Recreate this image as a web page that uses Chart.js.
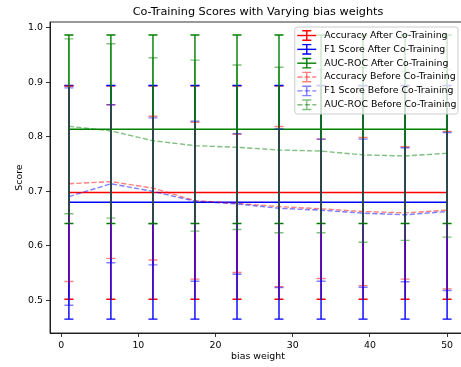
<!DOCTYPE html>
<html lang="en">
<head>
    <meta charset="UTF-8">
    <title>Co-Training Scores</title>
    <script src="https://cdn.jsdelivr.net/npm/chart.js"></script>
    <style>
        html, body {
            margin: 0;
            padding: 0;
            overflow: hidden;
            background: #fff;
        }
        #wrap {
            width: 470px;
            height: 367px;
        }
    </style>
</head>
<body>
    <div id="wrap">
        <canvas id="scores-chart" width="470" height="367"></canvas>
    </div>

    <script>
        // bias weights (x positions of the points)
        const biasWeights = [1, 6.44, 11.89, 17.33, 22.78, 28.22, 33.67, 39.11, 44.56, 50];

        const accAfter = [0.698, 0.698, 0.698, 0.698, 0.698, 0.698, 0.698, 0.698, 0.698, 0.698];
        const accAfterErr = [0.196, 0.196, 0.196, 0.196, 0.196, 0.196, 0.196, 0.196, 0.196, 0.196];
        const f1After = [0.680, 0.680, 0.680, 0.680, 0.680, 0.680, 0.680, 0.680, 0.680, 0.680];
        const f1AfterErr = [0.2145, 0.2145, 0.2145, 0.2145, 0.2145, 0.2145, 0.2145, 0.2145, 0.2145, 0.2145];
        const aucAfter = [0.814, 0.814, 0.814, 0.814, 0.814, 0.814, 0.814, 0.814, 0.814, 0.814];
        const aucAfterErr = [0.173, 0.173, 0.173, 0.173, 0.173, 0.173, 0.173, 0.173, 0.173, 0.173];

        const accBefore = [0.714, 0.718, 0.706, 0.683, 0.678, 0.672, 0.668, 0.663, 0.6605, 0.6655];
        const accBeforeErr = [0.1795, 0.141, 0.132, 0.144, 0.127, 0.147, 0.128, 0.136, 0.1215, 0.1445];
        const f1Before = [0.6905, 0.714, 0.700, 0.682, 0.677, 0.669, 0.6655, 0.660, 0.657, 0.663];
        const f1BeforeErr = [0.1995, 0.145, 0.135, 0.147, 0.129, 0.1455, 0.1305, 0.136, 0.123, 0.145];
        const aucBefore = [0.8195, 0.811, 0.793, 0.784, 0.781, 0.776, 0.774, 0.767, 0.765, 0.770];
        const aucBeforeErr = [0.1605, 0.160, 0.1525, 0.157, 0.151, 0.152, 0.150, 0.1605, 0.155, 0.154];

        const xTicks = [0, 10, 20, 30, 40, 50];
        const yTicks = [0.5, 0.6, 0.7, 0.8, 0.9, 1.0];

        const series = [
            { label: 'Accuracy After Co-Training', vals: accAfter, err: accAfterErr, color: 'rgb(255,0,0)', dashed: false },
            { label: 'F1 Score After Co-Training', vals: f1After, err: f1AfterErr, color: 'rgb(0,0,255)', dashed: false },
            { label: 'AUC-ROC After Co-Training', vals: aucAfter, err: aucAfterErr, color: 'rgb(0,128,0)', dashed: false },
            { label: 'Accuracy Before Co-Training', vals: accBefore, err: accBeforeErr, color: 'rgba(255,0,0,0.5)', dashed: true },
            { label: 'F1 Score Before Co-Training', vals: f1Before, err: f1BeforeErr, color: 'rgba(0,0,255,0.5)', dashed: true },
            { label: 'AUC-ROC Before Co-Training', vals: aucBefore, err: aucBeforeErr, color: 'rgba(0,128,0,0.5)', dashed: true }
        ];

        const DASH = [5.2, 2.3];
        const CAP = 4.5;
        const LW = 1.4;
        const SMALL = 9.4;

        // vertical error bars with caps, drawn right after each dataset's line
        const errorBars = {
            id: 'errorBars',
            afterDatasetDraw(chart, args) {
                const ds = chart.data.datasets[args.index];
                const xs = chart.scales.x, ys = chart.scales.y;
                const ctx = chart.ctx;
                const area = chart.chartArea;
                ctx.save();
                ctx.beginPath();
                ctx.rect(area.left, area.top, area.right - area.left, area.bottom - area.top);
                ctx.clip();
                ctx.strokeStyle = ds.borderColor;
                ctx.lineWidth = LW;
                ctx.setLineDash([]);
                ds.data.forEach((p, i) => {
                    const px = xs.getPixelForValue(p.x);
                    const top = ys.getPixelForValue(p.y + ds.err[i]);
                    const bot = ys.getPixelForValue(p.y - ds.err[i]);
                    ctx.beginPath();
                    ctx.moveTo(px, top);
                    ctx.lineTo(px, bot);
                    ctx.moveTo(px - CAP, top);
                    ctx.lineTo(px + CAP, top);
                    ctx.moveTo(px - CAP, bot);
                    ctx.lineTo(px + CAP, bot);
                    ctx.stroke();
                });
                ctx.restore();
            },
            afterDraw(chart) {
                const ctx = chart.ctx;
                const area = chart.chartArea;
                // axes frame
                ctx.save();
                ctx.strokeStyle = '#000';
                ctx.lineWidth = 0.8;
                ctx.strokeRect(area.left, area.top, area.right - area.left, area.bottom - area.top);

                // legend, top right
                ctx.font = SMALL + 'px "DejaVu Sans"';
                let maxW = 0;
                series.forEach(s => { maxW = Math.max(maxW, ctx.measureText(s.label).width); });
                const boxW = maxW + 31;
                const boxH = 87;
                const right = area.right - 8;
                const left = right - boxW;
                const top = area.top + 5;
                ctx.beginPath();
                ctx.roundRect(left, top, boxW, boxH, 2.5);
                ctx.fillStyle = 'rgba(255,255,255,0.8)';
                ctx.fill();
                ctx.strokeStyle = '#cccccc';
                ctx.lineWidth = 1;
                ctx.stroke();

                series.forEach((s, i) => {
                    const cy = top + 8.5 + i * 13.85;
                    const x0 = left + 2.5, x1 = x0 + 19, cx = x0 + 9.5;
                    ctx.strokeStyle = s.color;
                    ctx.lineWidth = LW;
                    ctx.setLineDash(s.dashed ? DASH : []);
                    ctx.beginPath();
                    ctx.moveTo(x0, cy);
                    ctx.lineTo(x1, cy);
                    ctx.stroke();
                    ctx.setLineDash([]);
                    ctx.beginPath();
                    ctx.moveTo(cx, cy - 4.7);
                    ctx.lineTo(cx, cy + 4.7);
                    ctx.moveTo(cx - CAP, cy - 4.7);
                    ctx.lineTo(cx + CAP, cy - 4.7);
                    ctx.moveTo(cx - CAP, cy + 4.7);
                    ctx.lineTo(cx + CAP, cy + 4.7);
                    ctx.stroke();
                    ctx.fillStyle = '#000';
                    ctx.textAlign = 'left';
                    ctx.textBaseline = 'middle';
                    ctx.fillText(s.label, x0 + 27, cy);
                });
                ctx.restore();
            }
        };

        Chart.defaults.font.family = '"DejaVu Sans", sans-serif';
        Chart.defaults.color = '#000';

        const chart = new Chart(document.getElementById('scores-chart'), {
            type: 'line',
            data: {
                datasets: series.map((s, i) => ({
                    label: s.label,
                    data: biasWeights.map((x, j) => ({ x: x, y: s.vals[j] })),
                    err: s.err,
                    borderColor: s.color,
                    backgroundColor: s.color,
                    borderWidth: LW,
                    borderDash: s.dashed ? DASH : [],
                    pointRadius: 0,
                    tension: 0,
                    fill: false,
                    order: series.length - i
                }))
            },
            options: {
                responsive: false,
                animation: false,
                devicePixelRatio: 1,
                events: [],
                layout: { padding: { left: 0, right: 4, top: 0, bottom: 0 } },
                plugins: {
                    legend: { display: false },
                    tooltip: { enabled: false },
                    title: {
                        display: true,
                        text: 'Co-Training Scores with Varying bias weights',
                        fullSize: false,
                        color: '#000',
                        font: { size: 11.25, weight: 'normal' },
                        padding: { top: 5.5, bottom: 3 }
                    }
                },
                scales: {
                    x: {
                        type: 'linear',
                        min: -1.45,
                        max: 52.45,
                        afterBuildTicks: scale => { scale.ticks = xTicks.map(v => ({ value: v })); },
                        afterFit: scale => { scale.height = 34; },
                        grid: { drawOnChartArea: false, tickLength: 4, tickColor: '#000', lineWidth: 0.8 },
                        border: { display: true, color: '#000', width: 0.8 },
                        ticks: { font: { size: SMALL }, padding: 3, maxRotation: 0, callback: v => String(v) },
                        title: { display: true, text: 'bias weight', font: { size: SMALL }, padding: { top: 0, bottom: 4.5 } }
                    },
                    y: {
                        type: 'linear',
                        min: 0.44,
                        max: 1.011,
                        afterBuildTicks: scale => { scale.ticks = yTicks.map(v => ({ value: v })); },
                        afterFit: scale => { scale.width = 50; },
                        grid: { drawOnChartArea: false, tickLength: 4, tickColor: '#000', lineWidth: 0.8 },
                        border: { display: true, color: '#000', width: 0.8 },
                        ticks: { font: { size: SMALL }, padding: 3, callback: v => v.toFixed(1) },
                        title: { display: true, text: 'Score', font: { size: SMALL }, padding: { top: 13.5, bottom: 0 } }
                    }
                }
            },
            plugins: [errorBars]
        });
    </script>
</body>
</html>
